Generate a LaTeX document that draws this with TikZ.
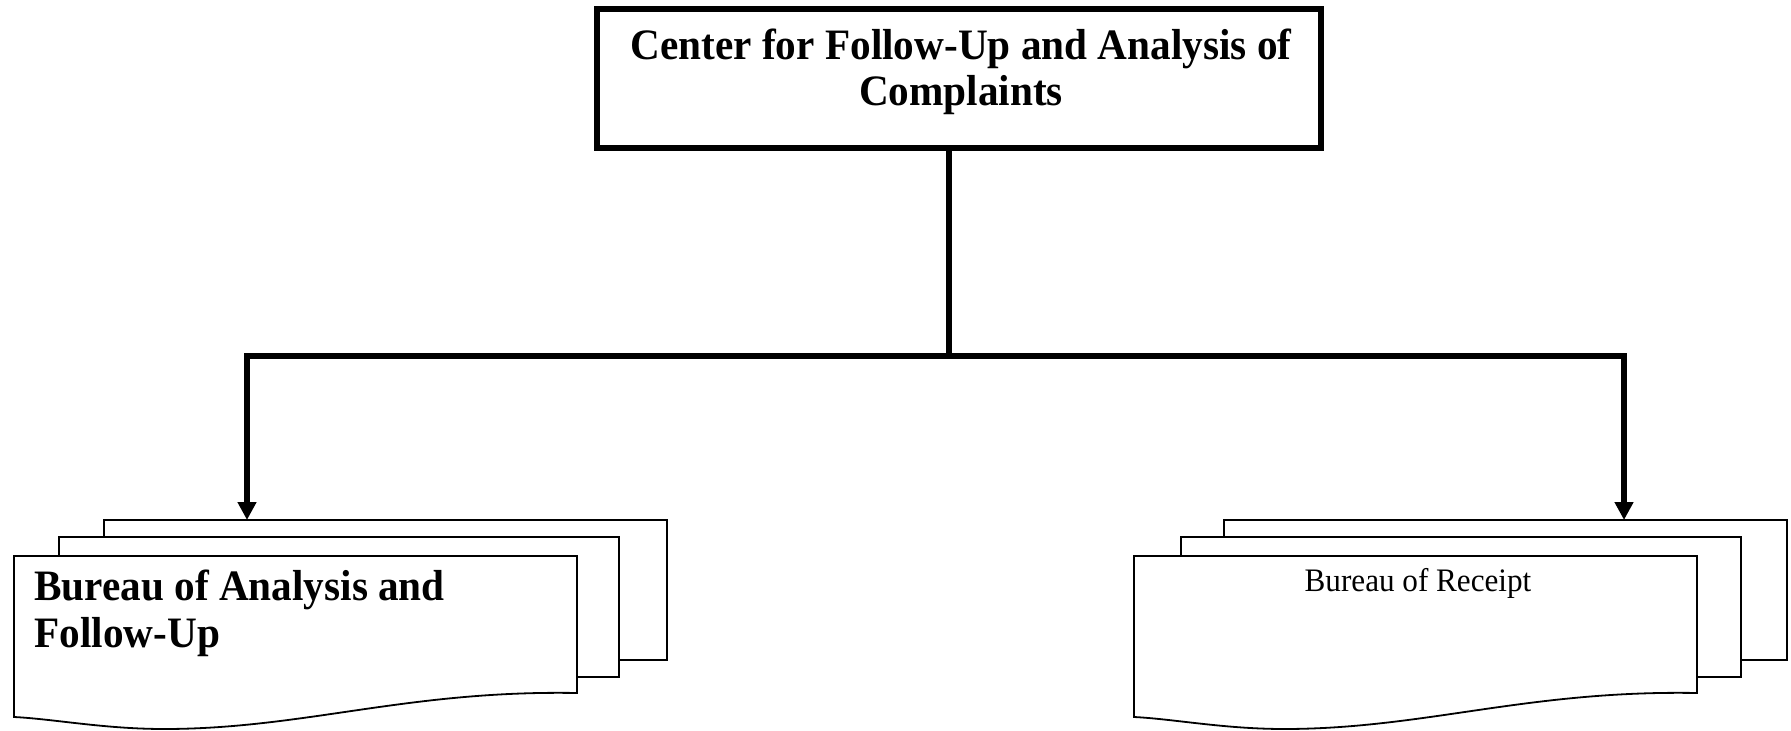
\documentclass[tikz,border=0pt]{standalone}
\usepackage{fontspec}
\setmainfont{Liberation Serif}[FakeStretch=0.95]
\usetikzlibrary{arrows.meta}

% one sheet of a stacked document: rectangle with flat bottom
\newcommand\flatsheet[4]{% x-left, y-top, width, y-bottom
  \draw[page] (#1,#2) rectangle ++(#3,#4-#2);}
% front sheet with a wavy lower edge
\newcommand\wavysheet[1]{% x-left
  \draw[page] (#1,556) -- ++(563,0) -- ++(0,137)
    .. controls ++(-170,-3) and ++(140,0) .. ++(-413,36)
    .. controls ++(-60,0) and ++(40,2) .. ++(-150,-12) -- cycle;}

\begin{document}
\begin{tikzpicture}[x=0.5pt,y=-0.5pt,
  bar/.style={line width=3pt},
  link/.style={line width=3pt,-{Triangle[width=9pt,length=9pt]}},
  page/.style={draw=black,line width=0.9pt,fill=white},
  headbox/.style={draw,line width=3pt,minimum width=362pt,minimum height=69.5pt,inner sep=0pt},
  boldlabel/.style={font=\fontsize{21.7}{23.2}\selectfont\bfseries,inner sep=0pt},
  plainlabel/.style={font=\fontsize{16.4}{19}\selectfont,inner sep=0pt}]
\useasboundingbox (0,0) rectangle (1791,731);

% head office
\node[headbox] (head) at (959,78.5) {};
\node[boldlabel,align=center,anchor=base] (title) at (961,106)
  {Center for Follow-Up and Analysis of\\Complaints};

% left document stack
\flatsheet{104}{520}{563}{660}
\flatsheet{59}{537}{560}{677}
\wavysheet{14}
\node[boldlabel,align=left,anchor=base west] (bureauA) at (34,647)
  {Bureau of Analysis and\\Follow-Up};

% right document stack
\flatsheet{1224}{520}{563}{660}
\flatsheet{1181}{537}{560}{677}
\wavysheet{1134}
\node[plainlabel,anchor=base] (bureauR) at (1418,591) {Bureau of Receipt};

% connectors
\coordinate (hub) at (949,356);
\coordinate (tipA) at (247,520);
\coordinate (tipR) at (1624,520);
\draw[bar] (head.south -| hub) -- (hub);
\draw[link] (hub) -| (tipA);
\draw[link] (hub) -| (tipR);
\end{tikzpicture}
\end{document}
